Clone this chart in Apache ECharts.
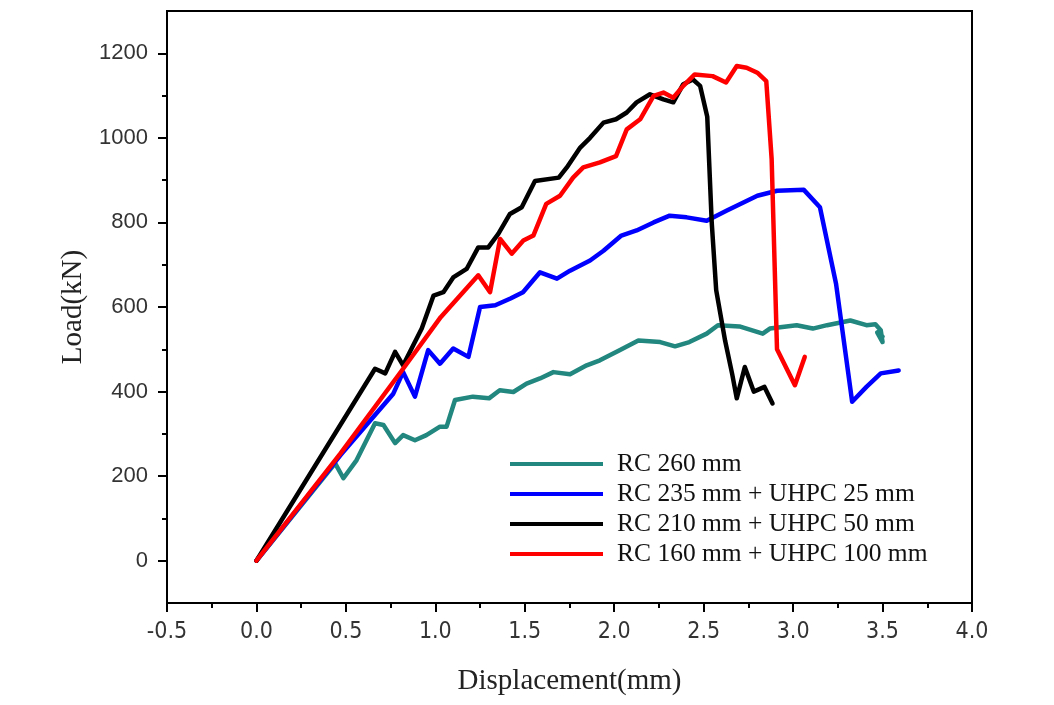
<!DOCTYPE html>
<html>
<head>
<meta charset="utf-8">
<script src="https://cdn.jsdelivr.net/npm/echarts@6/dist/echarts.min.js"></script>
<style>html,body{margin:0;padding:0;background:#fff}#c{width:1054px;height:705px}</style>
</head>
<body>
<div id="c"></div>
<script>
const seriesNames = ['RC 260 mm', 'RC 235 mm + UHPC 25 mm', 'RC 210 mm + UHPC 50 mm', 'RC 160 mm + UHPC 100 mm'];

const rc260X = [0, 0.44, 0.486, 0.56, 0.663, 0.71, 0.775, 0.82, 0.886, 0.95, 1.026, 1.063, 1.11, 1.21, 1.30, 1.36, 1.436, 1.51, 1.585, 1.66, 1.753, 1.846, 1.92, 2.03, 2.135, 2.257, 2.34, 2.42, 2.517, 2.58, 2.70, 2.83, 2.87, 3.02, 3.11, 3.19, 3.32, 3.41, 3.46, 3.49, 3.50, 3.47, 3.50];
const rc260Y = [0, 230, 195, 238, 325, 321, 278, 297, 285, 297, 317, 317, 380, 388, 384, 403, 399, 419, 431, 446, 441, 462, 474, 498, 521, 517, 507, 517, 537, 557, 554, 537, 549, 557, 549, 557, 568, 557, 559, 545, 517, 540, 530];

const uh25X = [0, 0.47, 0.765, 0.82, 0.886, 0.96, 1.026, 1.10, 1.185, 1.25, 1.335, 1.42, 1.49, 1.585, 1.68, 1.753, 1.865, 1.94, 2.04, 2.125, 2.22, 2.31, 2.405, 2.517, 2.63, 2.80, 2.91, 3.06, 3.15, 3.24, 3.33, 3.41, 3.49, 3.59];
const uh25Y = [0, 250, 395, 446, 388, 498, 466, 502, 482, 600, 604, 620, 635, 682, 667, 686, 710, 733, 769, 781, 800, 816, 812, 804, 828, 863, 875, 877, 836, 655, 376, 411, 443, 450];

const uh50X = [0, 0.663, 0.72, 0.775, 0.82, 0.924, 0.99, 1.045, 1.10, 1.175, 1.24, 1.296, 1.352, 1.417, 1.483, 1.557, 1.69, 1.735, 1.81, 1.865, 1.94, 2.01, 2.07, 2.125, 2.20, 2.275, 2.33, 2.386, 2.44, 2.48, 2.52, 2.545, 2.57, 2.62, 2.66, 2.685, 2.73, 2.78, 2.84, 2.885];
const uh50Y = [0, 454, 443, 494, 462, 549, 627, 635, 670, 690, 741, 741, 773, 820, 836, 898, 906, 930, 977, 1000, 1036, 1044, 1060, 1084, 1103, 1091, 1084, 1127, 1138, 1123, 1050, 800, 640, 520, 440, 384, 458, 400, 411, 372];

const uh100X = [0, 0.47, 0.82, 1.03, 1.24, 1.306, 1.362, 1.427, 1.492, 1.548, 1.62, 1.697, 1.77, 1.827, 1.92, 2.01, 2.07, 2.145, 2.22, 2.275, 2.33, 2.386, 2.45, 2.55, 2.625, 2.685, 2.74, 2.80, 2.85, 2.88, 2.91, 3.01, 3.065];
const uh100Y = [0, 254, 454, 576, 675, 635, 761, 726, 757, 769, 844, 863, 906, 930, 942, 957, 1020, 1044, 1099, 1107, 1095, 1123, 1150, 1146, 1131, 1170, 1166, 1154, 1134, 950, 500, 415, 482];

const yMajorTicks = [0, 200, 400, 600, 800, 1000, 1200];
const yMinorTicks = [100, 300, 500, 700, 900, 1100];

const colors = ['#21877f', '#0000ff', '#000000', '#ff0000'];
const xs = [rc260X, uh25X, uh50X, uh100X];
const ys = [rc260Y, uh25Y, uh50Y, uh100Y];

const chart = echarts.init(document.getElementById('c'), null, {renderer: 'canvas'});
const axisLineStyle = {show: true, onZero: false, lineStyle: {color: '#000', width: 2}};
chart.setOption({
  animation: false,
  backgroundColor: '#fff',
  grid: {left: 167, right: 82, top: 11, bottom: 102, show: true, borderColor: '#000', borderWidth: 2, containLabel: false},
  legend: {
    orient: 'vertical', left: 505, top: 444, itemWidth: 93, itemHeight: 4, itemGap: 0, icon: 'rect',
    data: seriesNames,
    textStyle: {fontFamily: 'Liberation Serif', fontSize: 25.5, color: '#111', lineHeight: 30, padding: [0, 0, 0, 9]}
  },
  xAxis: {
    type: 'value', min: -0.5, max: 4, interval: 0.5,
    axisLine: axisLineStyle, splitLine: {show: false},
    name: 'Displacement(mm)', nameLocation: 'middle', nameGap: 64,
    nameTextStyle: {fontFamily: 'Liberation Serif', fontSize: 29, color: '#222'},
    axisTick: {show: true, inside: false, length: 9, lineStyle: {color: '#000', width: 2}},
    minorTick: {show: true, splitNumber: 2, length: 5, lineStyle: {color: '#000', width: 2}},
    axisLabel: {margin: 18, fontSize: 23, color: '#333', fontFamily: 'DejaVu Sans Condensed, Liberation Sans', formatter: v => v.toFixed(1)}
  },
  yAxis: [
    {
      type: 'value', min: -100, max: 1300,
      axisLine: axisLineStyle, splitLine: {show: false},
      name: 'Load(kN)', nameLocation: 'middle', nameGap: 78,
      nameTextStyle: {fontFamily: 'Liberation Serif', fontSize: 29, color: '#222'},
      axisTick: {show: true, inside: false, length: 9, customValues: yMajorTicks, lineStyle: {color: '#000', width: 2}},
      axisLabel: {margin: 19, fontSize: 22, color: '#333', fontFamily: 'Liberation Sans', customValues: yMajorTicks, formatter: v => String(v)}
    },
    {
      type: 'value', min: -100, max: 1300, position: 'left',
      axisLine: {show: false, onZero: false}, splitLine: {show: false},
      axisTick: {show: true, inside: false, length: 5, customValues: yMinorTicks, lineStyle: {color: '#000', width: 2}},
      axisLabel: {show: false}
    }
  ],
  series: seriesNames.map((n, i) => ({
    name: n, type: 'line', xAxisIndex: 0, yAxisIndex: 0,
    data: xs[i].map((x, j) => [x, ys[i][j]]),
    showSymbol: false, symbol: 'none', color: colors[i],
    lineStyle: {width: 4.5, color: colors[i], join: 'round', cap: 'round'}
  }))
});
</script>
</body>
</html>
